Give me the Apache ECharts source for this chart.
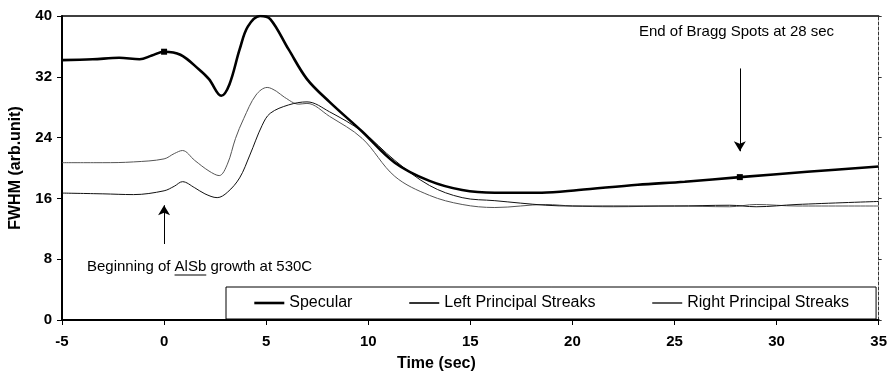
<!DOCTYPE html>
<html>
<head>
<meta charset="utf-8">
<script src="https://cdn.jsdelivr.net/npm/echarts@6/dist/echarts.min.js"></script>
<style>
html,body{margin:0;padding:0;background:#fff;}
#chart{width:890px;height:377px;}
</style>
</head>
<body>
<div id="chart"></div>
<script>
// ---- data (time in sec, FWHM in arb. units) ----
const specularTime = [-5,-3.5,-2.2,-1.2,-0.6,0,0.8,1.7,2.2,2.8,3.2,3.7,4.1,4.7,5.2,6.1,7.0,8.1,9.7,11.3,13.0,14.6,16.2,18.5,20.3,23.2,25.5,28.2,31.5,35];
const specularFWHM = [34.2,34.3,34.5,34.3,34.8,35.3,34.9,33.0,31.7,29.5,31.0,35.6,38.6,40.0,39.6,35.6,31.7,28.7,24.8,20.7,18.3,17.1,16.75,16.75,17.1,17.8,18.2,18.8,19.5,20.2];

const leftTime = [-5,-3,-1.5,0,0.5,0.9,1.5,2.0,2.6,3.1,3.7,4.2,4.8,5.2,6.1,7.0,8.1,9.7,11.3,13.0,14.6,16.2,18.7,20,22,25,27.7,29,31,35];
const leftFWHM = [16.7,16.6,16.5,17.0,17.6,18.2,17.4,16.6,16.1,16.8,18.7,21.7,25.6,27.2,28.3,28.7,27.4,24.8,21.0,17.7,16.1,15.7,15.1,15.0,15.0,15.0,15.1,14.9,15.2,15.6];

const rightTime = [-5,-3,-1.5,0,0.5,0.9,1.5,2.2,2.7,3.1,3.5,3.9,4.5,5.05,5.5,5.9,6.6,7.0,8.1,9.7,11.3,13.0,14.6,16.2,18.7,20,22,25,27.7,29,31,35];
const rightFWHM = [20.7,20.7,20.8,21.2,21.9,22.3,21.0,19.6,19.0,20.5,23.9,26.5,29.6,30.6,30.1,29.3,28.4,28.5,26.8,23.9,18.9,16.4,15.2,14.8,15.2,15.0,14.9,15.0,14.9,15.2,15.0,15.0];

const markerTimes = [0, 28.2];           // square markers on the Specular curve
const seriesNames = ['Specular','Left Principal Streaks','Right Principal Streaks'];
const xTicks = {min:-5, max:35, interval:5};
const yTicks = {min:0, max:40, interval:8};
const braggArrow = [[28.2, 33.1],[28.2, 22.2]];
const growthArrow = [[0, 10.0],[0, 15.1]];

const FONT = "'Liberation Sans', Arial, sans-serif";

function zip(t, v){ return t.map((x,i)=>[x, v[i]]); }
const specData = specularTime.map((t,i)=>{
  if (markerTimes.indexOf(t) >= 0) {
    return {value:[t, specularFWHM[i]], symbol:'rect', symbolSize:6};
  }
  return [t, specularFWHM[i]];
});

// measure text to place the underline under "AlSb"
const mctx = document.createElement('canvas').getContext('2d');
mctx.font = "15px " + FONT;
const annoLeft = 87;
const preW = mctx.measureText('Beginning of ').width;
const alsbW = mctx.measureText('AlSb').width;

const chart = echarts.init(document.getElementById('chart'), null, {renderer:'canvas'});
const option = {
  animation:false,
  backgroundColor:'#fff',
  grid:{left:62, right:10, top:16, bottom:53},
  legend:{
    data:[
      {name:seriesNames[0], lineStyle:{width:2.6, color:'#000'}},
      {name:seriesNames[1], lineStyle:{width:1.6, color:'#000'}},
      {name:seriesNames[2], lineStyle:{width:1.6, color:'#333'}}
    ],
    orient:'horizontal',
    left:226, top:287,
    padding:[8,27,8,27],
    itemGap:56, itemWidth:30, itemHeight:14,
    borderColor:'#000', borderWidth:1, backgroundColor:'#fff',
    itemStyle:{opacity:0},
    textStyle:{fontFamily:FONT, fontSize:16, color:'#000'},
    z:10
  },
  xAxis:[{
    type:'value', min:xTicks.min, max:xTicks.max, interval:xTicks.interval,
    name:'Time (sec)', nameLocation:'middle', nameGap:36,
    nameTextStyle:{fontFamily:FONT, fontSize:16, fontWeight:'bold', color:'#000', padding:[0,68,0,0]},
    axisLine:{show:true, onZero:false, lineStyle:{color:'#000', width:2}},
    axisTick:{show:true, length:5, lineStyle:{color:'#000', width:1}},
    axisLabel:{fontFamily:FONT, fontSize:15, fontWeight:'bold', color:'#000', margin:14},
    splitLine:{show:false}
  },{
    type:'value', position:'top', min:xTicks.min, max:xTicks.max, interval:xTicks.interval,
    axisLine:{show:true, onZero:false, lineStyle:{color:'#000', width:1.5}},
    axisTick:{show:false}, axisLabel:{show:false}, splitLine:{show:false}
  }],
  yAxis:[{
    type:'value', min:yTicks.min, max:yTicks.max, interval:yTicks.interval,
    name:'FWHM (arb.unit)', nameLocation:'middle', nameGap:38, nameRotate:90,
    nameTextStyle:{fontFamily:FONT, fontSize:16, fontWeight:'bold', color:'#000'},
    axisLine:{show:true, onZero:false, lineStyle:{color:'#000', width:2}},
    axisTick:{show:true, length:5, lineStyle:{color:'#000', width:1}},
    axisLabel:{fontFamily:FONT, fontSize:15, fontWeight:'bold', color:'#000', margin:10},
    splitLine:{show:false}
  },{
    type:'value', position:'right', min:yTicks.min, max:yTicks.max, interval:yTicks.interval,
    axisLine:{show:true, onZero:false, lineStyle:{color:'#333', width:1, type:[3,2]}},
    axisTick:{show:true, inside:false, length:3, lineStyle:{color:'#333', width:1}},
    axisLabel:{show:false}, splitLine:{show:false}
  }],
  series:[{
    name:seriesNames[0], type:'line', smooth:0.35, symbol:'none',
    data:specData, z:5,
    lineStyle:{color:'#000', width:2.6}, itemStyle:{color:'#000'},
    markLine:{
      silent:true, symbol:['none','arrow'], symbolSize:[9,10],
      label:{show:false},
      lineStyle:{color:'#000', width:1, type:'solid'},
      data:[
        [{coord:braggArrow[0]},{coord:braggArrow[1]}],
        [{coord:growthArrow[0]},{coord:growthArrow[1]}]
      ]
    }
  },{
    name:seriesNames[1], type:'line', smooth:0.35, symbol:'none',
    data:zip(leftTime, leftFWHM), z:4,
    lineStyle:{color:'#111', width:1}, itemStyle:{color:'#111'}
  },{
    name:seriesNames[2], type:'line', smooth:0.35, symbol:'none',
    data:zip(rightTime, rightFWHM), z:3,
    lineStyle:{color:'#555', width:1}, itemStyle:{color:'#555'}
  }],
  graphic:[
    {type:'text', left:639, top:24, style:{text:'End of Bragg Spots at 28 sec', font:"15px "+FONT, fill:'#000'}},
    {type:'text', left:annoLeft, top:259, style:{text:'Beginning of AlSb growth at 530C', font:"15px "+FONT, fill:'#000'}},
    {type:'line', shape:{x1:annoLeft+preW, y1:275, x2:annoLeft+preW+alsbW, y2:275}, style:{stroke:'#000', lineWidth:1}}
  ]
};
chart.setOption(option);
</script>
</body>
</html>
